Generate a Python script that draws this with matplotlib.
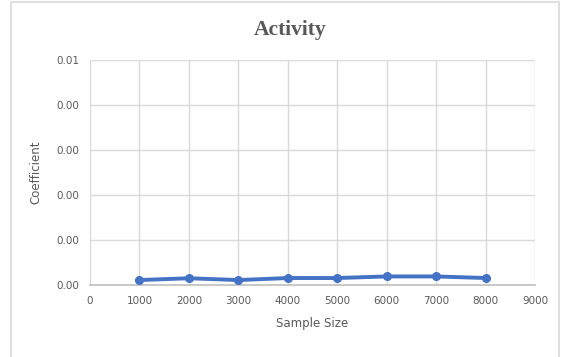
import matplotlib.pyplot as plt
from matplotlib.patches import Rectangle
from matplotlib.ticker import FormatStrFormatter

# Datos
sample_size = [1000, 2000, 3000, 4000, 5000, 6000, 7000, 8000]
coefficient = [0.00011, 0.00015, 0.00011, 0.000155, 0.000155, 0.00019, 0.00019, 0.000155]

gray_text = '#595959'

fig = plt.figure(figsize=(5.7, 3.57), dpi=100)
ax = fig.add_axes([90 / 570, 1 - 285 / 357, (535 - 90) / 570, (285 - 60) / 357])

ax.plot(sample_size, coefficient, color='#4472C4', linewidth=2.8,
        marker='o', markersize=5.5, zorder=3)

ax.set_xlim(0, 9000)
ax.set_ylim(0, 0.005)
ax.set_xticks(range(0, 9001, 1000))
ax.set_yticks([0, 0.001, 0.002, 0.003, 0.004, 0.005])
ax.yaxis.set_major_formatter(FormatStrFormatter('%.2f'))
ax.grid(True, color='#D9D9D9', linewidth=1)
ax.set_axisbelow(True)
for side in ['top', 'right', 'left']:
    ax.spines[side].set_visible(False)
ax.spines['bottom'].set_color('#BFBFBF')
ax.spines['bottom'].set_linewidth(1.2)
ax.tick_params(length=0, colors=gray_text, labelsize=7.5, pad=8)

ax.set_xlabel('Sample Size', color=gray_text, fontsize=8.5, labelpad=8)
ax.set_ylabel('Coefficient', color=gray_text, fontsize=8.5, labelpad=10)

fig.text(290 / 570, 1 - 30 / 357, 'Activity', ha='center', va='center',
         fontsize=15.5, fontweight='bold', family='Liberation Serif', color=gray_text)

# Borde del grafico
fig.patches.append(Rectangle((11 / 570, -0.01), (559 - 11) / 570, 1 - 2 / 357 + 0.01,
                             transform=fig.transFigure, fill=False,
                             edgecolor='#D9D9D9', linewidth=1.2))

fig.savefig('out.png', dpi=100)
